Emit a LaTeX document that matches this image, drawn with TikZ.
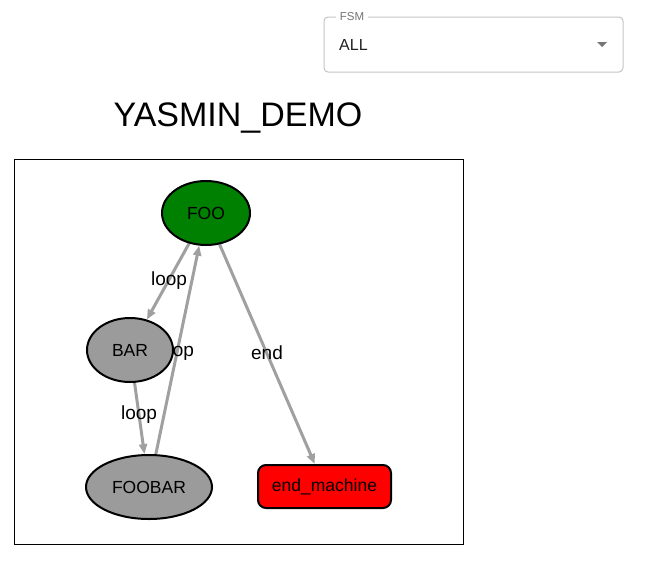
\documentclass[tikz,border=0pt]{standalone}
\usepackage{fontspec}
\setmainfont{Liberation Sans}
\usetikzlibrary{shapes.geometric,arrows.meta,backgrounds}
\definecolor{stategray}{HTML}{9B9B9B}
\definecolor{edgegray}{HTML}{A0A0A0}
\definecolor{fsmgreen}{HTML}{008000}
\definecolor{boxgray}{HTML}{C4C4C4}
\definecolor{hintgray}{HTML}{757575}

\begin{document}
\begin{tikzpicture}[x=1pt,y=-1pt]
            \tikzstyle{state}=[ellipse,draw=black,line width=2pt,inner sep=0pt,minimum height=64pt,font=\fontsize{17.5}{20}\selectfont]
            \tikzstyle{outcome}=[rectangle,rounded corners=8pt,draw=black,line width=2pt,fill=red,minimum width=133pt,minimum height=43pt,inner sep=0pt,font=\fontsize{17.5}{20}\selectfont]
            \tikzstyle{trans}=[draw=edgegray,line width=3pt,-{Triangle[length=10pt,width=8pt]}]
            \tikzstyle{lbl}=[inner sep=0pt,font=\fontsize{19}{22}\selectfont]
    \useasboundingbox (0,0) rectangle (670,582);
    \draw[boxgray,line width=1pt,rounded corners=4pt] (324,17) rectangle (623,72);
    \node[fill=white,inner xsep=4pt,inner ysep=1pt,text=hintgray,font=\fontsize{11.5}{13}\selectfont] (fsmlabel) at (352,17) {FSM};
    \node[anchor=west,inner sep=0pt,text=black!87,font=\fontsize{16}{19}\selectfont] (fsmvalue) at (339,45) {ALL};
    \fill[hintgray] (597,42) -- (607,42) -- (602,47) -- cycle;
    \node[inner sep=0pt,font=\fontsize{34}{39}\selectfont] (title) at (238,118) {YASMIN\_DEMO};
    \draw[line width=1pt] (14,159) rectangle (463,544);
    \node[state,fill=fsmgreen,minimum width=88pt] (foo) at (206,213) {FOO};
    \node[state,fill=stategray,minimum width=86pt] (bar) at (130,350) {BAR};
    \node[state,fill=stategray,minimum width=126pt] (foobar) at (149,487) {FOOBAR};
    \node[outcome] (endm) at (324.5,486.5) {end\_machine};
    \begin{scope}[on background layer]
    \draw[trans] (foo) -- (bar);
    \draw[trans] (bar) -- (foobar);
    \draw[trans] (foobar) -- (foo);
    \draw[trans] (foo) -- (endm);
    \node[lbl] (l1) at (169,281) {loop};
    \node[lbl] (l2) at (139,415) {loop};
    \node[lbl] (l3) at (176,352) {loop};
    \node[lbl] (l4) at (267,353) {end};
    \end{scope}
\end{tikzpicture}
\end{document}
